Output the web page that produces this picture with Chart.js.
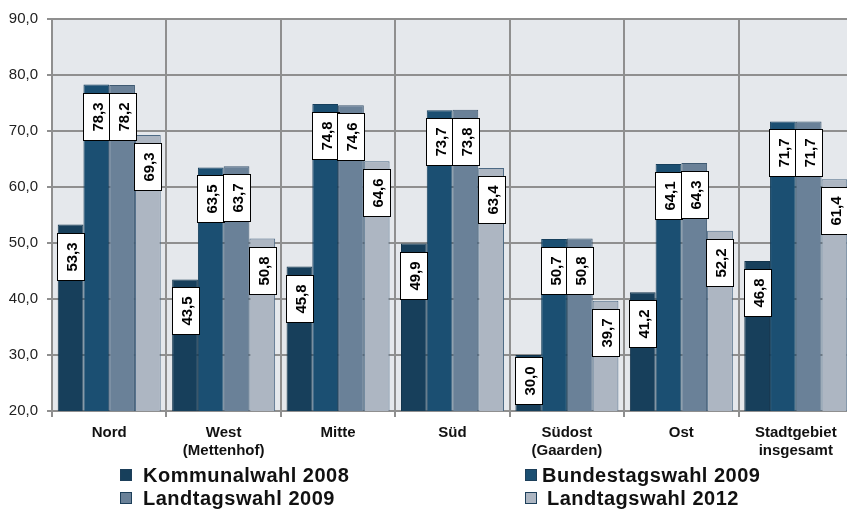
<!DOCTYPE html>
<html>
<head>
<meta charset="utf-8">
<script src="https://cdn.jsdelivr.net/npm/chart.js@4.4.1/dist/chart.umd.min.js"></script>
<style>
  html, body { margin: 0; padding: 0; background: #fff; overflow: hidden; }
  #wrap { position: relative; width: 847px; height: 510px; overflow: hidden; }
  #grafico { position: absolute; left: 0; top: 0; }
  .leg { position: absolute; font: bold 20px "Liberation Sans", Arial, sans-serif; color: #111; white-space: nowrap; letter-spacing: 0.5px; line-height: 20px; }
  .leg .box { position: absolute; top: 4px; width: 10px; height: 10px; border: 1px solid #1d3f5a; }
</style>
</head>
<body>
<div id="wrap">
  <canvas id="grafico" width="854" height="510"></canvas>
  <div id="legenda"></div>
</div>
<script>
// Wahlbeteiligung nach Stadtteilen (Werte in %)
const stadtteile = ['Nord', ['West', '(Mettenhof)'], 'Mitte', 'Süd', ['Südost', '(Gaarden)'], 'Ost', ['Stadtgebiet', 'insgesamt']];
const kommunal2008 = [53.3, 43.5, 45.8, 49.9, 30.0, 41.2, 46.8];
const bundestag2009 = [78.3, 63.5, 74.8, 73.7, 50.7, 64.1, 71.7];
const landtag2009 = [78.2, 63.7, 74.6, 73.8, 50.8, 64.3, 71.7];
const landtag2012 = [69.3, 50.8, 64.6, 63.4, 39.7, 52.2, 61.4];
const yTicks = [20, 30, 40, 50, 60, 70, 80, 90];

const fonte = '"Liberation Sans", Arial, sans-serif';
const cinzaGrade = '#8f8f8f';

function fmt(v) {
    return v.toFixed(1).replace('.', ',');
}

// fundo da area do grafico
const fundoPlugin = {
    id: 'fundo',
    beforeDraw(chart) {
        const { ctx, chartArea: a } = chart;
        ctx.save();
        ctx.fillStyle = '#e5e8ec';
        ctx.fillRect(a.left, a.top, a.right - a.left, a.bottom - a.top);
        ctx.restore();
    }
};

// rotulos brancos com texto girado
const rotulosPlugin = {
    id: 'rotulos',
    afterDatasetsDraw(chart) {
        const ctx = chart.ctx;
        const fundo = chart.chartArea.bottom;
        chart.data.datasets.forEach((ds, i) => {
            const meta = chart.getDatasetMeta(i);
            meta.data.forEach((bar, j) => {
                const w = Math.round(bar.width) + 1;
                const h = 47;
                const left = Math.round(bar.x - w / 2) + 0.5;
                const top = Math.round(Math.min(bar.y + 8, fundo - 54)) + 0.5;
                ctx.save();
                ctx.fillStyle = '#ffffff';
                ctx.fillRect(left, top, w, h);
                ctx.strokeStyle = '#000000';
                ctx.lineWidth = 1;
                ctx.strokeRect(left, top, w, h);
                ctx.translate(left + w / 2 + 0.5, top + h / 2);
                ctx.rotate(-Math.PI / 2);
                ctx.font = 'bold 15px ' + fonte;
                ctx.fillStyle = '#000';
                ctx.textAlign = 'center';
                ctx.textBaseline = 'middle';
                ctx.fillText(fmt(ds.data[j]), 0, 1);
                ctx.restore();
            });
        });
    }
};

const series = [
    { label: 'Kommunalwahl 2008', data: kommunal2008, cor: '#173f5b', borda: '#12344c' },
    { label: 'Bundestagswahl 2009', data: bundestag2009, cor: '#1b4f72', borda: '#163f5c' },
    { label: 'Landtagswahl 2009', data: landtag2009, cor: '#6a8198', borda: '#3f5a72' },
    { label: 'Landtagswahl 2012', data: landtag2012, cor: '#adb6c2', borda: '#4d6a85' }
];

const config = {
    type: 'bar',
    data: {
        labels: stadtteile,
        datasets: series.map(s => ({
            label: s.label,
            data: s.data,
            backgroundColor: s.cor,
            borderColor: s.borda,
            borderWidth: 1,
            categoryPercentage: 0.9,
            barPercentage: 1.0
        }))
    },
    options: {
        responsive: false,
        animation: false,
        layout: { padding: { top: 19, left: 0, right: 1, bottom: 39 } },
        plugins: {
            legend: { display: false },
            tooltip: { enabled: false }
        },
        scales: {
            x: {
                grid: { color: cinzaGrade, lineWidth: 2, tickLength: 6, offset: true },
                border: { color: cinzaGrade, width: 2 },
                ticks: {
                    color: '#111',
                    font: { family: fonte, size: 15, weight: 'bold', lineHeight: 1.25 },
                    padding: 6,
                    maxRotation: 0,
                    autoSkip: false
                },
                afterFit(scale) { scale.height = 60; }
            },
            y: {
                min: yTicks[0],
                max: yTicks[yTicks.length - 1],
                afterBuildTicks(scale) { scale.ticks = yTicks.map(v => ({ value: v })); },
                grid: { color: cinzaGrade, lineWidth: 2, tickLength: 5 },
                border: { color: cinzaGrade, width: 2 },
                ticks: {
                    color: '#222',
                    font: { family: fonte, size: 15 },
                    padding: 9,
                    callback: v => fmt(v)
                },
                afterFit(scale) { scale.width = 52; }
            }
        }
    },
    plugins: [fundoPlugin, rotulosPlugin]
};

new Chart(document.getElementById('grafico').getContext('2d'), config);

// legenda em duas colunas
const posLegenda = [
    { x: 120, y: 465, tx: 143 },
    { x: 525, y: 465, tx: 542 },
    { x: 120, y: 488, tx: 143 },
    { x: 525, y: 488, tx: 547 }
];
const legenda = document.getElementById('legenda');
series.forEach((s, i) => {
    const p = posLegenda[i];
    const item = document.createElement('div');
    item.className = 'leg';
    item.style.left = p.x + 'px';
    item.style.top = p.y + 'px';
    const box = document.createElement('span');
    box.className = 'box';
    box.style.left = '0px';
    box.style.background = s.cor;
    const txt = document.createElement('span');
    txt.style.position = 'absolute';
    txt.style.left = (p.tx - p.x) + 'px';
    txt.style.top = '0px';
    txt.textContent = s.label;
    item.appendChild(box);
    item.appendChild(txt);
    legenda.appendChild(item);
});
</script>
</body>
</html>
